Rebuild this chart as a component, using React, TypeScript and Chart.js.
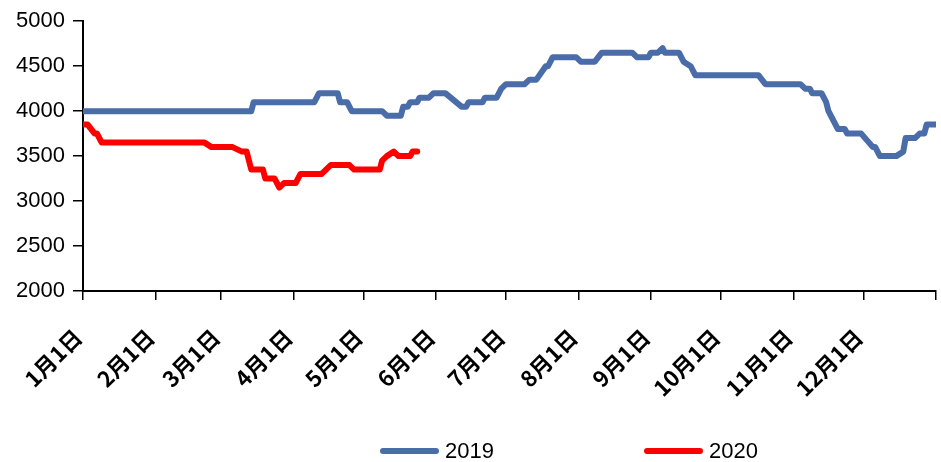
import React, { useEffect, useRef } from 'react';
import { Chart, registerables } from 'chart.js';

Chart.register(...registerables);

// Day-of-year (0 = 1月1日) tick positions and their labels
const monthTickDays = [0, 31, 59, 90, 120, 151, 181, 212, 243, 273, 304, 334, 365];
const monthTickLabels = ['1月1日', '2月1日', '3月1日', '4月1日', '5月1日', '6月1日', '7月1日', '8月1日', '9月1日', '10月1日', '11月1日', '12月1日', ''];

const seriesNames = ['2019', '2020'];
const seriesColors = ['#4a6ca9', '#ff0000'];

// 2019 series: day-of-year and value
const days2019 = [0, 72, 73, 99, 101, 109, 110, 113, 115, 128, 130, 136, 137, 139, 140, 143, 144, 148, 150, 155, 162, 164, 165, 171, 172, 177, 179, 181, 189, 191, 194, 198, 199, 201, 211, 213, 219, 222, 235, 237, 242, 243, 246, 248, 249, 255, 257, 260, 262, 289, 292, 307, 309, 311, 312, 316, 318, 319, 323, 326, 327, 333, 338, 339, 341, 348, 351, 352, 356, 358, 360, 361, 365];
const values2019 = [4000, 4000, 4100, 4100, 4200, 4200, 4100, 4100, 4000, 4000, 3950, 3950, 4050, 4050, 4100, 4100, 4150, 4150, 4200, 4200, 4050, 4050, 4100, 4100, 4150, 4150, 4250, 4300, 4300, 4350, 4350, 4500, 4500, 4600, 4600, 4550, 4550, 4650, 4650, 4600, 4600, 4650, 4650, 4700, 4650, 4650, 4550, 4500, 4400, 4400, 4300, 4300, 4250, 4250, 4200, 4200, 4100, 4000, 3800, 3800, 3750, 3750, 3600, 3600, 3500, 3500, 3550, 3700, 3700, 3750, 3750, 3850, 3850];

// 2020 series: day-of-year and value
const days2020 = [0, 2, 5, 6, 8, 52, 55, 64, 68, 70, 72, 77, 78, 82, 84, 86, 91, 93, 102, 106, 114, 116, 127, 128, 130, 133, 135, 140, 141, 143];
const values2020 = [3850, 3850, 3750, 3750, 3650, 3650, 3600, 3600, 3550, 3550, 3350, 3350, 3250, 3250, 3150, 3200, 3200, 3300, 3300, 3400, 3400, 3350, 3350, 3450, 3500, 3550, 3500, 3500, 3550, 3550];

const yMin = 2000;
const yMax = 5000;
const yStep = 500;

const bottomLegend = {
  id: 'bottomLegend',
  afterDraw(chart: any) {
    const ctx = chart.ctx as CanvasRenderingContext2D;
    const starts = [381, 645];
    const y = 451;
    chart.data.datasets.forEach((ds: any, i: number) => {
      const x = starts[i];
      ctx.save();
      ctx.strokeStyle = ds.borderColor;
      ctx.lineWidth = 6;
      ctx.lineCap = 'round';
      ctx.beginPath();
      ctx.moveTo(x + 2, y);
      ctx.lineTo(x + 55, y);
      ctx.stroke();
      ctx.fillStyle = '#000';
      ctx.font = '22px "Liberation Sans", Arial, sans-serif';
      ctx.textBaseline = 'middle';
      ctx.textAlign = 'left';
      ctx.fillText(ds.label, x + 64, y + 1);
      ctx.restore();
    });
  },
};

export default function App() {
  const ref = useRef<HTMLCanvasElement | null>(null);

  useEffect(() => {
    if (!ref.current) return;
    const mk = (days: number[], vals: number[]) => days.map((d, i) => ({ x: d, y: vals[i] }));
    const lineStyle = {
      borderWidth: 6,
      pointRadius: 0,
      tension: 0,
      borderJoinStyle: 'round',
      borderCapStyle: 'round',
    };
    const chart = new Chart(ref.current, {
      type: 'line',
      data: {
        datasets: [
          {
            label: seriesNames[0],
            data: mk(days2019, values2019),
            borderColor: seriesColors[0],
            backgroundColor: seriesColors[0],
            ...lineStyle,
          },
          {
            label: seriesNames[1],
            data: mk(days2020, values2020),
            borderColor: seriesColors[1],
            backgroundColor: seriesColors[1],
            ...lineStyle,
          },
        ],
      },
      options: {
        animation: false,
        responsive: false,
        layout: { padding: { top: 21, right: 5, left: 0, bottom: 0 } },
        plugins: {
          legend: { display: false },
          tooltip: { enabled: false },
        },
        scales: {
          x: {
            type: 'linear',
            min: 0,
            max: 365,
            afterBuildTicks: (s: any) => {
              s.ticks = monthTickDays.map((v) => ({ value: v }));
            },
            afterFit: (s: any) => {
              s.height = 171;
              s.paddingLeft = 0;
              s.paddingRight = 0;
            },
            ticks: {
              autoSkip: false,
              minRotation: 45,
              maxRotation: 45,
              padding: 24,
              labelOffset: -5,
              color: '#000',
              font: { family: '"Noto Sans CJK SC", sans-serif', size: 22, weight: 'bold' },
              callback: (_v: any, i: number) => monthTickLabels[i],
            },
            grid: { drawOnChartArea: false, drawTicks: true, tickLength: 9, color: '#000', lineWidth: 1.5 },
            border: { color: '#000', width: 2 },
          },
          y: {
            min: yMin,
            max: yMax,
            afterFit: (s: any) => {
              s.width = 83;
            },
            ticks: {
              stepSize: yStep,
              padding: 8,
              color: '#000',
              font: { family: '"Liberation Sans", Arial, sans-serif', size: 22 },
              callback: (v: any) => String(v),
            },
            grid: { drawOnChartArea: false, drawTicks: true, tickLength: 10, color: '#000', lineWidth: 1.5 },
            border: { color: '#000', width: 2 },
          },
        },
      },
      plugins: [bottomLegend],
    } as any);
    return () => chart.destroy();
  }, []);

  return (
    <div style={{ position: 'absolute', left: 0, top: 0, width: 941, height: 462, background: '#fff' }}>
      <canvas ref={ref} width={941} height={462} style={{ display: 'block' }} />
    </div>
  );
}
